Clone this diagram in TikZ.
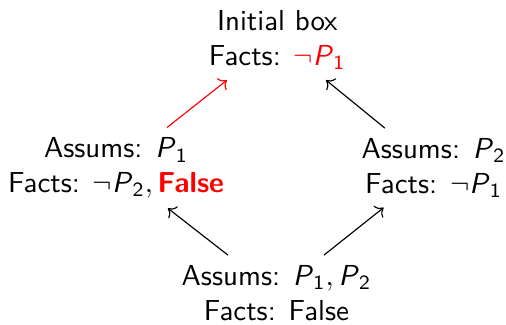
\documentclass[tikz,border=0pt]{standalone}
\usepackage{amsmath, amssymb}
\usepackage{tikz}
\usetikzlibrary{arrows.meta,positioning}

\newcommand{\prop}[1]{\textit{P}\ensuremath{_{\mathsf{#1}}}}

\tikzset{
    boxnode/.style={align=center, font=\sffamily},
    imp/.style={->}
}

\begin{document}
\begin{tikzpicture}
    \useasboundingbox (0,0) rectangle (6.15,-3.94);

% Boxes
\node[boxnode] (init) at (3.37,-0.49) {Initial box\\Facts: \textcolor{red}{$\neg$\prop{1}}};
\node[boxnode] (left) at (1.41,-2.04) {Assums: \prop{1}\\Facts: $\neg$\prop{2}$,$\,\textcolor{red}{\textbf{False}}};
\node[boxnode] (right) at (5.27,-2.04) {Assums: \prop{2}\\Facts: $\neg$\prop{1}};
\node[boxnode] (both) at (3.36,-3.56) {Assums: \prop{1}$,$\,\prop{2}\\Facts: False};

% Arrows
\draw[imp] (both) -- (left);
\draw[imp] (both) -- (right);
\draw[imp,red] (left) -- (init);
\draw[imp] (right) -- (init);

\end{tikzpicture}
\end{document}
